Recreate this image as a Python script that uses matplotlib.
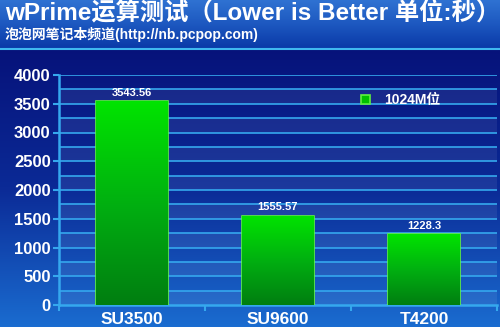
import numpy as np
import matplotlib
matplotlib.use('Agg')
from matplotlib import pyplot as plt
from matplotlib.colors import LinearSegmentedColormap

plt.rcParams['font.family'] = ['Liberation Sans', 'Noto Sans CJK SC', 'DejaVu Sans']

cpus = ['SU3500', 'SU9600', 'T4200']
scores = [3543.56, 1555.57, 1228.3]
score_labels = ['3543.56', '1555.57', '1228.3']
series_name = '1024M位'
title = 'wPrime运算测试（Lower is Better 单位:秒）'
subtitle = '泡泡网笔记本频道(http://nb.pcpop.com)'

fig = plt.figure(figsize=(5, 3.27), dpi=100)

# background: title bar + navy gradient
bg = fig.add_axes([0, 0, 1, 1])
bg.set_axis_off()
bg.set_xlim(0, 1)
bg.set_ylim(0, 1)
body_cmap = LinearSegmentedColormap.from_list('body', ['#1a6cd0', '#0b2a96', '#06127a'])
bg.imshow(np.linspace(0, 1, 256).reshape(-1, 1), cmap=body_cmap, aspect='auto',
          extent=[0, 1, 0, 1 - 48 / 327], origin='lower')
head_cmap = LinearSegmentedColormap.from_list('head', ['#0a3aa8', '#1d58c0', '#2f72d2'])
bg.imshow(np.linspace(0, 1, 64).reshape(-1, 1), cmap=head_cmap, aspect='auto',
          extent=[0, 1, 1 - 48 / 327, 1], origin='lower')
bg.axhline(1 - 49 / 327, color='#3fb8f0', lw=1.5)

fig.text(0.01, 1 - 13 / 327, title, color='white', fontsize=17.5, fontweight='bold',
         va='center', ha='left')
fig.text(0.01, 1 - 34 / 327, subtitle, color='white', fontsize=10, fontweight='bold',
         va='center', ha='left')

ax = fig.add_axes([59 / 500, 1 - 305 / 327, 438 / 500, 230 / 327])
ax.set_facecolor('none')
x = np.arange(len(cpus))

# alternating bands and grid lines
for i, y0 in enumerate(np.arange(0, 4000, 250)):
    if i % 2 == 0:
        ax.axhspan(y0, y0 + 250, color='white', alpha=0.07, lw=0, zorder=0)
for y in np.arange(250, 4001, 250):
    ax.axhline(y, color='#35a8ee', lw=1.2, zorder=1)

bars = ax.bar(x, scores, width=0.49, color='#00c000', edgecolor='#60f040', lw=1.2, zorder=3)
bar_cmap = LinearSegmentedColormap.from_list('bar', ['#007e10', '#00b010', '#00e400'])
for b in bars:
    im = ax.imshow(np.linspace(0, 1, 128).reshape(-1, 1), cmap=bar_cmap, aspect='auto',
                   origin='lower', zorder=3.5,
                   extent=[b.get_x(), b.get_x() + b.get_width(), 0, b.get_height()])
    im.set_clip_path(b)
ax.set_xlim(-0.5, len(cpus) - 0.5)
ax.set_ylim(0, 4000)

for xi, v, lab in zip(x, scores, score_labels):
    ax.text(xi, v + 60, lab, ha='center', va='bottom', color='white', fontsize=8,
            fontweight='bold', zorder=5)

ax.set_yticks(np.arange(0, 4001, 500))
ax.set_yticklabels([str(v) for v in range(0, 4001, 500)])
ax.set_xticks(x)
ax.set_xticklabels(cpus)
ax.set_xticks(np.arange(-0.5, len(cpus)), minor=True)
ax.tick_params(axis='x', which='major', length=0, pad=5, labelsize=12.5, labelcolor='white')
ax.tick_params(axis='x', which='minor', length=4, width=1.5, color='#35a8ee', direction='out')
ax.tick_params(axis='y', which='major', length=4, width=1.5, color='#35a8ee', labelsize=12,
               labelcolor='white', pad=2)
for lab in ax.get_xticklabels() + ax.get_yticklabels():
    lab.set_fontweight('bold')
for side in ['top', 'right']:
    ax.spines[side].set_visible(False)
for side in ['left', 'bottom']:
    ax.spines[side].set_color('#35a8ee')
    ax.spines[side].set_linewidth(1.8)

leg = ax.legend([bars[0]], [series_name], loc='upper left', bbox_to_anchor=(0.66, 0.975),
                frameon=False, handlelength=0.7, handleheight=0.7, handletextpad=1.0,
                prop={'weight': 'bold', 'size': 10})
for t in leg.get_texts():
    t.set_color('white')

fig.savefig('out.png', dpi=100)
